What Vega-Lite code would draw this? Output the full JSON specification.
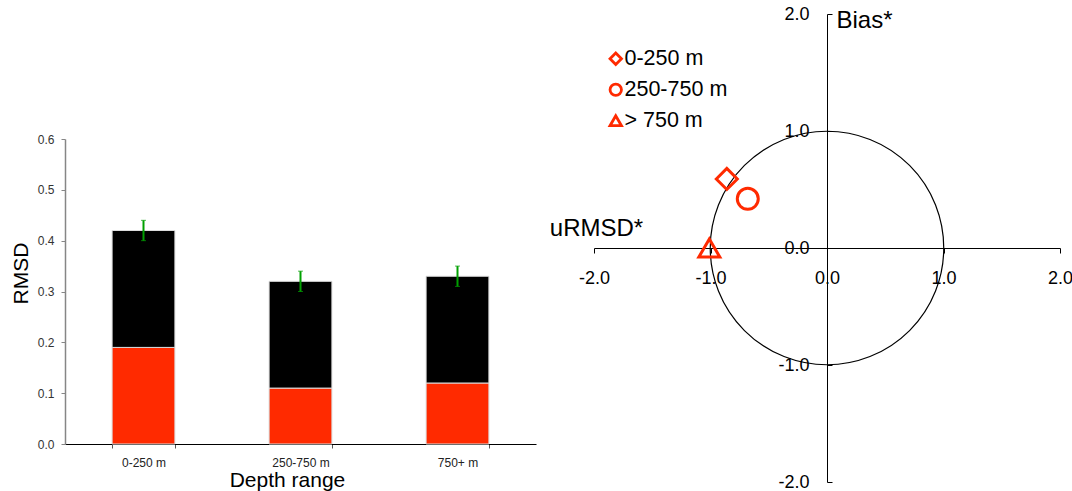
{
  "$schema": "https://vega.github.io/schema/vega-lite/v6.json",
  "width": 1072,
  "height": 491,
  "autosize": {"type": "none"},
  "padding": 0,
  "background": "white",
  "config": {
    "view": {"stroke": null},
    "font": "Liberation Sans",
    "axis": {"grid": false, "titleFontWeight": "normal", "titleColor": "#000000"},
    "locale": {"number": {"decimal": ".", "thousands": ",", "grouping": [3], "currency": ["$", ""], "minus": "-"}}
  },
  "datasets": {
    "rmsd": [
      {"depth": "0-250 m", "component": "Bias", "value": 0.19},
      {"depth": "0-250 m", "component": "uRMSD", "value": 0.23},
      {"depth": "250-750 m", "component": "Bias", "value": 0.11},
      {"depth": "250-750 m", "component": "uRMSD", "value": 0.21},
      {"depth": "750+ m", "component": "Bias", "value": 0.12},
      {"depth": "750+ m", "component": "uRMSD", "value": 0.21}
    ],
    "err": [
      {"depth": "0-250 m", "low": 0.40, "high": 0.44},
      {"depth": "250-750 m", "low": 0.30, "high": 0.34},
      {"depth": "750+ m", "low": 0.31, "high": 0.35}
    ],
    "target": [
      {"range": "0-250 m", "urmsd": -0.86, "bias": 0.59},
      {"range": "250-750 m", "urmsd": -0.68, "bias": 0.42},
      {"range": "> 750 m", "urmsd": -1.01, "bias": 0.0}
    ],
    "unit": [{"x": 0, "y": 0}]
  },
  "layer": [
    {
      "layer": [
        {
          "data": {"name": "rmsd"},
          "mark": {"type": "bar", "stroke": "#dcdcdc", "strokeWidth": 1},
          "encoding": {
            "x": {
              "field": "depth", "type": "nominal",
              "sort": ["0-250 m", "250-750 m", "750+ m"],
              "scale": {"range": [65, 536], "paddingInner": 0.6, "paddingOuter": 0.3},
              "axis": {
                "orient": "bottom", "offset": -47, "tickBand": "extent",
                "domainColor": "#000000", "domainWidth": 1.2, "tickColor": "#555555", "tickSize": 4,
                "labelAngle": 0, "labelFontSize": 12, "labelColor": "#222222", "labelPadding": 9,
                "title": "Depth range", "titleFontSize": 21, "titleX": 287, "titleY": 42,
                "titleAlign": "center", "titleBaseline": "alphabetic", "titleAnchor": null
              }
            },
            "y": {
              "field": "value", "type": "quantitative", "stack": "zero",
              "scale": {"domain": [0, 0.6], "range": [444, 139], "nice": false},
              "axis": {
                "orient": "left", "offset": -65, "values": [0, 0.1, 0.2, 0.3, 0.4, 0.5, 0.6], "format": ".1f",
                "domainColor": "#868686", "domainWidth": 1.5, "tickColor": "#868686", "tickSize": 4,
                "labelFontSize": 12, "labelColor": "#333333", "labelPadding": 7,
                "title": "RMSD", "titleFontSize": 21, "titleAngle": -90, "titleX": -38, "titleY": 273,
                "titleAlign": "center", "titleBaseline": "alphabetic", "titleAnchor": null
              }
            },
            "color": {
              "field": "component", "type": "nominal",
              "scale": {"domain": ["Bias", "uRMSD"], "range": ["#ff2a00", "#000000"]},
              "legend": null
            },
            "order": {"field": "component", "sort": "ascending"}
          }
        },
        {
          "data": {"name": "err"},
          "mark": {
            "type": "errorbar", "color": "#00a000",
            "rule": {"color": "#00a000", "strokeWidth": 2},
            "ticks": {"color": "#00a000", "size": 5, "strokeWidth": 1.5}
          },
          "encoding": {
            "x": {"field": "depth", "type": "nominal", "sort": ["0-250 m", "250-750 m", "750+ m"], "title": "Depth range"},
            "y": {"field": "low", "type": "quantitative", "title": "RMSD"},
            "y2": {"field": "high"}
          }
        }
      ]
    },
    {
      "layer": [
        {
          "data": {"name": "unit"},
          "mark": {"type": "point", "shape": "circle", "size": 54522, "filled": false, "stroke": "#000000", "strokeWidth": 1.2, "opacity": 1},
          "encoding": {
            "x": {"field": "x", "type": "quantitative", "title": "uRMSD*", "scale": {"domain": [-2, 2], "range": [594, 1060], "nice": false, "zero": false}},
            "y": {"field": "y", "type": "quantitative", "title": "Bias*", "scale": {"domain": [-2, 2], "range": [482, 14], "nice": false, "zero": false}}
          }
        },
        {
          "data": {"name": "target"},
          "mark": {"type": "point", "filled": false, "size": 441, "strokeWidth": 3, "color": "#ff2a00", "opacity": 1},
          "encoding": {
            "x": {
              "field": "urmsd", "type": "quantitative",
              "scale": {"domain": [-2, 2], "range": [594, 1060], "nice": false, "zero": false},
              "axis": {
                "orient": "bottom", "offset": -243, "values": [-2, -1, 0, 1, 2], "format": ".1f",
                "domainColor": "#000000", "domainWidth": 1, "tickColor": "#000000", "tickSize": 5,
                "labelFontSize": 18, "labelColor": "#000000", "labelPadding": 16, "labelFlush": false, "labelOverlap": false,
                "title": "uRMSD*", "titleFontSize": 24, "titleX": 596, "titleY": -13,
                "titleAlign": "center", "titleBaseline": "alphabetic", "titleAnchor": null
              }
            },
            "y": {
              "field": "bias", "type": "quantitative",
              "scale": {"domain": [-2, 2], "range": [482, 14], "nice": false, "zero": false},
              "axis": {
                "orient": "left", "offset": -827, "values": [-2, -1, 0, 1, 2], "format": ".1f",
                "domainColor": "#000000", "domainWidth": 1, "tickColor": "#000000", "tickSize": -5,
                "labelFontSize": 18, "labelColor": "#000000", "labelPadding": 23, "labelFlush": false, "labelOverlap": false,
                "title": "Bias*", "titleFontSize": 24, "titleAngle": 0, "titleX": 9, "titleY": 27,
                "titleAlign": "left", "titleBaseline": "alphabetic", "titleAnchor": null
              }
            },
            "shape": {
              "field": "range", "type": "nominal",
              "scale": {"domain": ["0-250 m", "250-750 m", "> 750 m"], "range": ["diamond", "circle", "triangle-up"]},
              "legend": {
                "orient": "none", "legendX": 605, "legendY": 48, "title": null, "padding": 0,
                "labelFontSize": 21.5, "labelColor": "#000000", "labelOffset": -2,
                "symbolSize": 130, "symbolStrokeWidth": 2.8, "symbolStrokeColor": "#ff2a00", "symbolFillColor": "transparent",
                "rowPadding": 7
              }
            }
          }
        }
      ]
    }
  ],
  "resolve": {
    "scale": {"x": "independent", "y": "independent"},
    "axis": {"x": "independent", "y": "independent"}
  }
}
